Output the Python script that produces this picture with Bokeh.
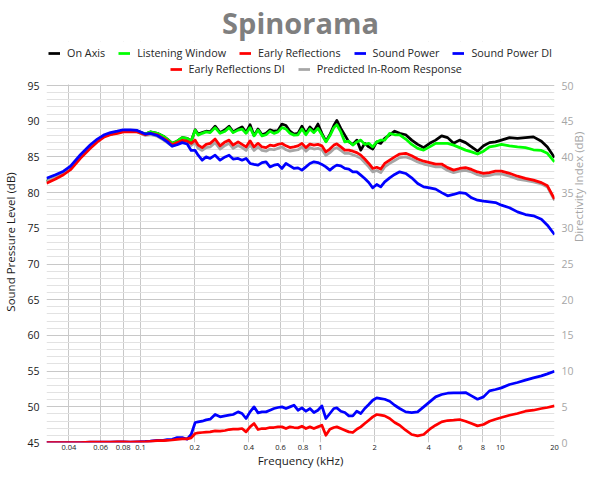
import math
from bokeh.plotting import figure
from bokeh.models import (Range1d, LinearAxis, FixedTicker, CustomJSTickFormatter,
                          Legend, LegendItem, BoxAnnotation)
from bokeh.embed import file_html
from bokeh.resources import INLINE

# ---------------- data ----------------
freq_khz = [0.030, 0.0337, 0.0373, 0.0408, 0.0463, 0.0526, 0.0575, 0.0629, 0.068, 0.0743,
            0.0802, 0.0877, 0.0959, 0.1062, 0.1132, 0.1238, 0.1337, 0.1407, 0.1499, 0.1598,
            0.1704, 0.1816, 0.1911, 0.2012, 0.209, 0.22, 0.2315, 0.2437, 0.2597, 0.2768,
            0.295, 0.3105, 0.327, 0.3484, 0.3666, 0.3859, 0.4062, 0.4273, 0.4498, 0.4735,
            0.4983, 0.5242, 0.5517, 0.5807, 0.6111, 0.6432, 0.6768, 0.7123, 0.7497, 0.789,
            0.8303, 0.8737, 0.9196, 0.9678, 1.0185, 1.072, 1.128, 1.187, 1.233, 1.298,
            1.366, 1.438, 1.513, 1.592, 1.676, 1.763, 1.856, 1.953, 2.055, 2.163,
            2.276, 2.426, 2.586, 2.756, 2.977, 3.215, 3.47, 3.748, 4.047, 4.369,
            4.716, 5.092, 5.497, 5.935, 6.407, 6.917, 7.467, 8.063, 8.704, 9.396,
            10.14, 11.24, 12.45, 13.78, 15.27, 16.91, 18.26, 20.0]

on_axis = [81.6, 82.2, 82.7, 83.4, 85.0, 86.4, 87.3, 87.9, 88.2, 88.4, 88.6, 88.6, 88.6,
           88.2, 88.5, 88.3, 87.9, 87.5, 86.9, 87.2, 87.7, 87.6, 87.2,
           88.8, 88.2, 88.4, 88.6, 88.5, 89.3, 88.4, 88.8, 89.3, 88.5,
           88.9, 89.2, 88.4, 89.5, 88.0, 88.9, 88.1, 88.3, 88.8, 88.6,
           88.7, 89.6, 89.4, 88.6, 88.2, 88.3, 89.3, 88.3, 89.2, 88.6,
           89.6, 88.3, 87.2, 88.1, 89.4, 90.1, 89.0, 88.05, 87.1, 86.75,
           87.35, 85.95, 86.9, 86.4, 86.1, 87.1, 86.9, 87.6, 88.1, 88.6,
           88.3, 88.1, 87.35, 86.75, 86.3, 86.9, 87.35, 87.95, 87.7, 86.9,
           87.35, 87.0, 86.4, 85.8, 86.55, 87.0, 87.1, 87.35, 87.7, 87.6,
           87.7, 87.8, 87.2, 86.4, 84.9]

listening_window = [81.6, 82.2, 82.7, 83.4, 85.0, 86.4, 87.3, 87.9, 88.2, 88.4, 88.6, 88.6, 88.6,
                    88.2, 88.5, 88.3, 87.9, 87.5, 86.9, 87.2, 87.7, 87.6, 87.2,
                    88.75, 88.05, 88.3, 88.5, 88.4, 89.1, 88.3, 88.6, 89.1, 88.4,
                    88.75, 88.9, 88.3, 89.1, 87.95, 88.75, 87.95, 88.1, 88.6, 88.3,
                    88.5, 89.1, 88.9, 88.3, 88.05, 88.1, 88.9, 88.1, 88.9, 88.4,
                    89.0, 88.1, 87.1, 87.95, 89.1, 89.5, 88.5, 87.1, 87.2, 86.65,
                    87.1, 87.35, 86.75, 86.9, 86.4, 87.1, 87.35, 87.35, 88.3, 88.1,
                    88.1, 87.5, 86.75, 86.2, 85.95, 86.4, 86.9, 86.9, 86.9, 86.65,
                    86.3, 85.95, 85.7, 85.4, 85.8, 86.4, 86.55, 86.75, 86.55, 86.4,
                    86.3, 86.0, 85.9, 85.5, 84.3]

early_reflections = [81.3, 81.9, 82.5, 83.2, 84.8, 86.2, 87.1, 87.8, 88.1, 88.3, 88.5, 88.5, 88.5,
                     88.1, 88.3, 88.1, 87.6, 87.3, 86.7, 87.0, 87.3, 87.2, 86.9,
                     87.35, 86.65, 86.3, 86.75, 86.9, 87.5, 86.55, 87.1, 87.35, 86.65,
                     87.1, 86.75, 86.4, 87.25, 86.4, 86.9, 86.4, 86.3, 86.65, 86.55,
                     86.75, 86.88, 86.55, 86.3, 86.4, 86.55, 86.9, 86.3, 86.8, 86.65,
                     86.75, 86.55, 85.7, 86.1, 86.65, 86.83, 86.4, 85.95, 85.95, 85.8,
                     85.6, 85.25, 84.7, 84.08, 83.38, 83.55, 83.3, 84.08, 84.55, 85.0,
                     85.4, 85.5, 85.15, 84.7, 84.4, 84.2, 84.0, 84.0, 83.5, 83.15,
                     83.38, 83.5, 83.25, 82.9, 82.7, 82.8, 83.0, 83.0, 82.7, 82.3,
                     82.0, 81.75, 81.4, 80.95, 79.1]

sound_power = [82.0, 82.5, 83.0, 83.7, 85.3, 86.7, 87.5, 88.1, 88.4, 88.6, 88.8, 88.8, 88.7,
               88.2, 88.3, 88.0, 87.5, 87.1, 86.5, 86.7, 87.0, 86.8, 85.9,
               85.9, 85.24, 84.54, 85.0, 84.78, 85.24, 84.54, 85.0, 85.24, 84.7,
               84.78, 84.54, 84.78, 84.08, 83.95, 83.84, 84.2, 84.31, 83.6, 83.84,
               83.95, 83.38, 84.08, 83.75, 83.38, 83.47, 83.14, 83.6, 84.08, 84.31,
               84.2, 83.95, 83.6, 83.14, 83.6, 83.84, 83.75, 83.38, 83.3, 82.9,
               82.9, 82.44, 81.98, 81.42, 80.67, 81.14, 80.8, 81.5, 82.07, 82.54,
               82.91, 82.68, 82.07, 81.28, 80.8, 80.67, 80.48, 80.0, 79.55, 79.74,
               80.0, 79.88, 79.27, 78.94, 78.8, 78.71, 78.6, 78.24, 77.87, 77.3,
               76.93, 76.75, 76.28, 75.44, 74.13]

predicted_in_room = [81.6, 82.2, 82.7, 83.4, 85.0, 86.4, 87.3, 87.9, 88.2, 88.4, 88.6, 88.6, 88.5,
                     88.0, 88.1, 87.9, 87.4, 87.0, 86.5, 86.8, 87.1, 87.0, 86.6,
                     87.0, 86.2, 85.9, 86.3, 86.4, 87.0, 86.1, 86.6, 86.9, 86.2,
                     86.6, 86.3, 85.9, 86.7, 85.9, 86.4, 85.9, 85.8, 86.1, 86.0,
                     86.2, 86.4, 86.0, 85.8, 85.9, 86.0, 86.4, 85.8, 86.3, 86.1,
                     86.2, 86.0, 85.2, 85.6, 86.1, 86.3, 85.9, 85.5, 85.5, 85.3,
                     85.1, 84.8, 84.2, 83.6, 82.9, 83.1, 82.8, 83.6, 84.1, 84.5,
                     84.9, 85.0, 84.7, 84.3, 84.0, 83.8, 83.6, 83.6, 83.1, 82.8,
                     83.0, 83.1, 82.9, 82.5, 82.3, 82.4, 82.6, 82.6, 82.3, 81.9,
                     81.7, 81.5, 81.2, 80.8, 78.9]

sound_power_di = [0.0, 0.0, 0.0, 0.0, 0.0, 0.05, 0.05, 0.05, 0.05, 0.1, 0.1, 0.05, 0.1,
                  0.15, 0.2, 0.3, 0.3, 0.4, 0.45, 0.7, 0.7, 0.46, 1.12,
                  2.8, 2.89, 2.98, 3.17, 3.26, 3.92, 3.59, 3.73, 3.82, 3.92,
                  4.29, 4.06, 3.36, 4.29, 4.99, 4.15, 4.29, 4.29, 4.52, 4.76,
                  4.9, 4.99, 4.76, 4.99, 5.22, 4.52, 4.85, 4.38, 4.76, 4.2,
                  4.52, 5.13, 3.36, 4.06, 4.76, 4.85, 4.38, 4.2, 3.73, 3.73,
                  4.38, 4.06, 4.76, 5.32, 5.92, 6.25, 6.16, 6.06, 5.78, 5.22,
                  4.76, 4.29, 4.2, 4.29, 4.99, 5.69, 6.39, 6.72, 6.9, 6.95,
                  6.95, 7.0, 6.53, 6.06, 6.39, 7.23, 7.42, 7.65, 8.12, 8.4,
                  8.73, 9.05, 9.33, 9.61, 9.99]

early_reflections_di = [0.0, 0.0, 0.0, 0.0, 0.0, 0.05, 0.05, 0.05, 0.05, 0.1, 0.1, 0.05, 0.1,
                        0.1, 0.15, 0.25, 0.25, 0.3, 0.35, 0.45, 0.5, 0.5, 0.65,
                        1.26, 1.35, 1.4, 1.45, 1.49, 1.63, 1.58, 1.68, 1.82, 1.86,
                        1.86, 1.96, 1.49, 2.19, 2.66, 1.82, 1.96, 1.96, 2.1, 2.1,
                        2.19, 2.19, 1.96, 2.19, 2.1, 2.05, 2.28, 1.96, 2.19, 1.96,
                        2.19, 2.42, 1.02, 1.86, 2.1, 2.19, 1.96, 1.72, 1.49, 1.4,
                        1.86, 2.19, 2.66, 3.12, 3.59, 3.92, 3.82, 3.73, 3.36, 2.8,
                        2.42, 1.72, 1.12, 0.93, 1.12, 1.86, 2.42, 2.89, 3.08, 3.12,
                        3.22, 2.98, 2.66, 2.33, 2.52, 2.98, 3.26, 3.5, 3.82, 4.06,
                        4.38, 4.52, 4.76, 4.9, 5.13]

x_ticks = [0.04, 0.06, 0.08, 0.1, 0.2, 0.4, 0.6, 0.8, 1, 2, 4, 6, 8, 10, 20]
spl_ticks = [45, 50, 55, 60, 65, 70, 75, 80, 85, 90, 95]
spl_minor_ticks = [v for v in range(46, 95) if v % 5 != 0]
di_ticks = [0, 5, 10, 15, 20, 25, 30, 35, 40, 45, 50]

series_names = ["On Axis", "Listening Window", "Early Reflections", "Sound Power",
                "Sound Power DI", "Early Reflections DI", "Predicted In-Room Response"]
series_colors = ["#000000", "#00ff00", "#ff0000", "#0000ff", "#0000ff", "#ff0000", "#a6a6a6"]

for s in (on_axis, listening_window, early_reflections, sound_power, predicted_in_room,
          sound_power_di, early_reflections_di):
    assert len(s) == len(freq_khz), len(s)

# ---------------- figure ----------------
FONT = "Open Sans"
FRAME_H = 401
PX_PER_DB = 357 / 50.0                       # 50 dB span of the grid drawn over 357 px
SPL_TOP = 95 + (FRAME_H - 357) / PX_PER_DB   # room above the grid for the legend rows

p = figure(frame_width=508, frame_height=FRAME_H, x_axis_type="log",
           x_range=Range1d(0.03, 20), y_range=Range1d(45, SPL_TOP),
           output_backend="svg", toolbar_location=None,
           min_border_left=0, min_border_right=0, min_border_top=0, min_border_bottom=0,
           background_fill_color="white", border_fill_color="white")
p.outline_line_color = None
p.extra_y_ranges = {"di": Range1d(0, SPL_TOP - 45)}

p.title.text = "Spinorama"
p.title.align = "center"
p.title.text_font = FONT
p.title.text_font_size = "29px"
p.title.text_font_style = "bold"
p.title.text_color = "#7f7f7f"
p.title.standoff = 0

# grids
p.xgrid.ticker = FixedTicker(ticks=x_ticks)
p.xgrid.grid_line_color = "#c8c8c8"
spl_ticker = FixedTicker(ticks=spl_ticks, minor_ticks=spl_minor_ticks)
p.ygrid.ticker = spl_ticker
p.ygrid.grid_line_color = "#c8c8c8"
p.ygrid.minor_grid_line_color = "#e2e2e2"

# white band above the 95 dB line (keeps the vertical grid out of the legend area)
p.add_layout(BoxAnnotation(bottom=95.15, fill_color="white", fill_alpha=1.0,
                           line_color=None, level="underlay"))


def style_axis(ax, label_color, tick_color, label_size, tick_size, label_standoff, tick_standoff):
    ax.axis_label_text_font = FONT
    ax.axis_label_text_font_size = label_size
    ax.axis_label_text_font_style = "normal"
    ax.axis_label_text_color = label_color
    ax.axis_label_standoff = label_standoff
    ax.major_label_text_font = FONT
    ax.major_label_text_font_size = tick_size
    ax.major_label_text_color = tick_color
    ax.major_label_standoff = tick_standoff
    ax.axis_line_color = None
    ax.major_tick_line_color = None
    ax.minor_tick_line_color = None
    ax.major_tick_out = 0
    ax.major_tick_in = 0
    ax.minor_tick_out = 0
    ax.minor_tick_in = 0


# bottom axis
xax = p.xaxis[0]
xax.ticker = FixedTicker(ticks=x_ticks)
xax.formatter = CustomJSTickFormatter(code="return tick.toString();")
xax.axis_label = "Frequency (kHz)"
style_axis(xax, "#1a1a1a", "#1a1a1a", "11.5px", "7.5px", 0, 2)

# left axis
yax = p.yaxis[0]
yax.ticker = spl_ticker
yax.axis_label = "Sound Pressure Level (dB)"
style_axis(yax, "#1a1a1a", "#1a1a1a", "11.5px", "10.5px", 6, 7)

# right axis (directivity index)
rax = LinearAxis(y_range_name="di", ticker=FixedTicker(ticks=di_ticks),
                 axis_label="Directivity Index (dB)")
rax.axis_label_orientation = math.pi / 2
style_axis(rax, "#a6a6a6", "#a6a6a6", "11.5px", "10.5px", 2, 7)
p.add_layout(rax, "right")

# curves
LW = 2.75
r_on = p.line(freq_khz, on_axis, line_color=series_colors[0], line_width=LW, line_join="round")
r_lw = p.line(freq_khz, listening_window, line_color=series_colors[1], line_width=LW, line_join="round")
r_pir = p.line(freq_khz, predicted_in_room, line_color=series_colors[6], line_width=LW, line_join="round")
r_er = p.line(freq_khz, early_reflections, line_color=series_colors[2], line_width=LW, line_join="round")
r_sp = p.line(freq_khz, sound_power, line_color=series_colors[3], line_width=LW, line_join="round")
r_spdi = p.line(freq_khz, sound_power_di, line_color=series_colors[4], line_width=LW,
                line_join="round", y_range_name="di")
r_erdi = p.line(freq_khz, early_reflections_di, line_color=series_colors[5], line_width=LW,
                line_join="round", y_range_name="di")
renderers = [r_on, r_lw, r_er, r_sp, r_spdi, r_erdi, r_pir]


def make_legend(idx, loc):
    lg = Legend(items=[LegendItem(label=series_names[i], renderers=[renderers[i]]) for i in idx],
                orientation="horizontal", location=loc,
                label_text_font=FONT, label_text_font_size="10.8px",
                label_text_color="#262626",
                glyph_width=12, glyph_height=16, label_height=16,
                label_standoff=7, spacing=13, padding=0, margin=0,
                border_line_color=None, background_fill_alpha=0)
    return lg


# legend rows sit in the band above the grid (screen offsets from the frame's bottom-left)
p.add_layout(make_legend([0, 1, 2, 3, 4], (2, FRAME_H - 19.5)))
p.add_layout(make_legend([5, 6], (123.5, FRAME_H - 35.5)))

open("out.html", "w").write(file_html(p, INLINE))
